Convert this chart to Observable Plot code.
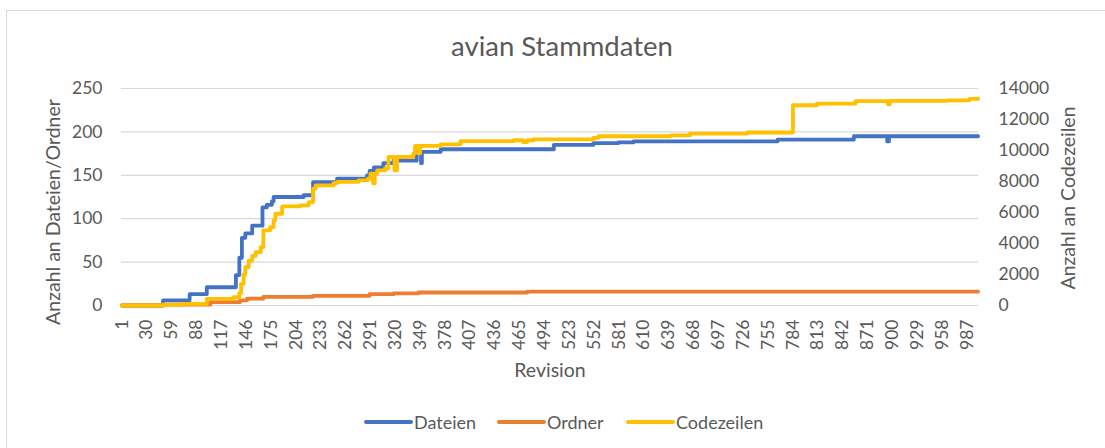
<!DOCTYPE html>
<html>
<head>
<meta charset="utf-8">
<script src="https://cdn.jsdelivr.net/npm/d3@7"></script>
<script src="https://cdn.jsdelivr.net/npm/@observablehq/plot@0.6"></script>
<style>
  html, body { margin: 0; padding: 0; background: #fff; }
  svg { display: block; }
</style>
</head>
<body>
<div id="chart"></div>
<script>
// ---- Data ----
const title = "avian Stammdaten";
const seriesNames = ["Dateien", "Ordner", "Codezeilen"];
const seriesColors = ["#4472C4", "#ED7D31", "#FFC000"];

// x tick labels (revisions shown on the category axis)
const xTicks = [1, 30, 59, 88, 117, 146, 175, 204, 233, 262, 291, 320, 349, 378, 407, 436, 465, 494,
  523, 552, 581, 610, 639, 668, 697, 726, 755, 784, 813, 842, 871, 900, 929, 958, 987];
const revisionCount = 1000;
const leftTicks = [0, 50, 100, 150, 200, 250];
const rightTicks = [0, 2000, 4000, 6000, 8000, 10000, 12000, 14000];

// Dateien: [revision where value changes, value]
const dateienRev = [1, 49, 80, 100, 134, 138, 141, 145, 153, 165, 170, 176, 178, 213, 224, 252, 287, 290, 295, 306, 318, 344, 345, 350, 351, 373, 396, 505, 551, 580, 598, 766, 855, 894, 896, 1000];
const dateienVal = [0, 6, 13, 21, 35, 55, 78, 83, 92, 113, 116, 120, 125, 127, 142, 146, 150, 155, 159, 164, 167, 167, 177, 164, 177, 180, 180, 185, 187, 188, 189, 191, 195, 189, 195, 195];

// Ordner
const ordnerRev = [1, 49, 104, 139, 147, 166, 224, 290, 318, 347, 474, 1000];
const ordnerVal = [0, 1, 4, 6, 8, 10, 11, 13, 14, 15, 16, 16];

// Codezeilen (right axis)
const codeRev = [1, 49, 73, 100, 131, 138, 140, 143, 145, 149, 153, 157, 163, 166, 174, 178, 180, 188, 209, 219, 224, 227, 248, 252, 277, 288, 291, 294, 296, 299, 308, 312, 319, 322, 341, 343, 347, 349, 373, 396, 458, 469, 474, 481, 536, 551, 557, 641, 664, 731, 783, 784, 812, 848, 857, 895, 897, 925, 964, 990, 1000];
const codeVal = [0, 50, 110, 430, 540, 800, 1400, 2000, 2480, 2900, 3200, 3440, 3770, 4850, 5060, 5500, 5920, 6400, 6460, 6670, 7540, 7750, 7900, 7970, 8075, 8180, 8510, 7880, 8510, 8720, 8850, 9580, 8720, 9580, 9800, 10300, 9820, 10300, 10400, 10600, 10660, 10550, 10660, 10720, 10720, 10810, 10920, 10980, 11090, 11160, 11200, 12920, 13030, 13030, 13180, 12980, 13200, 13200, 13240, 13330, 13350];

// ---- Build tables ----
const leftMax = leftTicks[leftTicks.length - 1];
const rightMax = rightTicks[rightTicks.length - 1];
const ratio = rightMax / leftMax; // right axis value per left axis unit
const dateien = dateienRev.map((r, i) => ({rev: r, v: dateienVal[i]}));
const ordner = ordnerRev.map((r, i) => ({rev: r, v: ordnerVal[i]}));
const code = codeRev.map((r, i) => ({rev: r, v: codeVal[i] / ratio}));
const rightTickPos = rightTicks.map(d => d / ratio);

const font = "Lato, 'Open Sans', sans-serif";
const textColor = "#595959";
const W = 1105, H = 448;
const lineW = 3.8;

const svg = Plot.plot({
  width: W,
  height: H,
  marginLeft: 121,
  marginRight: 127,
  marginTop: 88,
  marginBottom: 143,
  style: {fontFamily: font, fontSize: "17.5px", color: textColor, background: "#fff", overflow: "visible"},
  x: {type: "linear", domain: [0.5, revisionCount + 0.5]},
  y: {domain: [0, leftMax]},
  marks: [
    Plot.gridY(leftTicks, {stroke: "#D9D9D9", strokeOpacity: 1, strokeWidth: 1.2}),
    Plot.axisY(leftTicks, {anchor: "left", tickSize: 0, tickPadding: 19, label: null, fill: textColor}),
    Plot.axisY(rightTickPos, {anchor: "right", tickSize: 0, tickPadding: 20, label: null, fill: textColor,
      tickFormat: (d, i) => String(rightTicks[i])}),
    Plot.axisX(xTicks, {anchor: "bottom", tickSize: 0, tickPadding: 14, tickRotate: -90, label: null, fill: textColor}),
    Plot.line(dateien, {x: "rev", y: "v", stroke: seriesColors[0], strokeWidth: lineW, curve: "step-after", strokeLinejoin: "round", strokeLinecap: "round"}),
    Plot.line(ordner, {x: "rev", y: "v", stroke: seriesColors[1], strokeWidth: lineW, curve: "step-after", strokeLinejoin: "round", strokeLinecap: "round"}),
    Plot.line(code, {x: "rev", y: "v", stroke: seriesColors[2], strokeWidth: lineW, curve: "step-after", strokeLinejoin: "round", strokeLinecap: "round"})
  ]
});

const s = d3.select(svg);
// chart border
s.insert("rect", ":first-child")
  .attr("x", 6.5).attr("y", 10.5).attr("width", W + 20).attr("height", H + 20)
  .attr("fill", "#fff").attr("stroke", "#D9D9D9").attr("stroke-width", 1);

// title
s.append("text").attr("x", 562).attr("y", 56).attr("text-anchor", "middle")
  .attr("font-family", font).attr("font-size", 27.5).attr("fill", textColor).text(title);

// axis titles
s.append("text").attr("transform", "translate(60,212) rotate(-90)").attr("text-anchor", "middle")
  .attr("font-family", font).attr("font-size", 19.5).attr("fill", textColor).text("Anzahl an Dateien/Ordner");
s.append("text").attr("transform", "translate(1075,198) rotate(-90)").attr("text-anchor", "middle")
  .attr("font-family", font).attr("font-size", 19.5).attr("fill", textColor).text("Anzahl an Codezeilen");
s.append("text").attr("x", 550).attr("y", 377).attr("text-anchor", "middle")
  .attr("font-family", font).attr("font-size", 19.5).attr("fill", textColor).text("Revision");

// legend
const legendX = [366, 499, 628];
seriesNames.forEach((name, i) => {
  const g = s.append("g");
  g.append("line").attr("x1", legendX[i]).attr("x2", legendX[i] + 45).attr("y1", 422).attr("y2", 422)
    .attr("stroke", seriesColors[i]).attr("stroke-width", 4).attr("stroke-linecap", "round");
  g.append("text").attr("x", legendX[i] + 48).attr("y", 428.5).attr("text-anchor", "start")
    .attr("font-family", font).attr("font-size", 18).attr("fill", textColor).text(name);
});

document.getElementById("chart").appendChild(svg);
</script>
</body>
</html>
